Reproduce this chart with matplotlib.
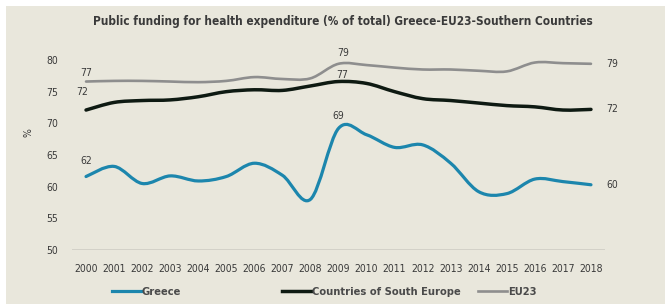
import numpy as np
import matplotlib.pyplot as plt
from matplotlib.path import Path
from matplotlib.patches import PathPatch, Rectangle
from matplotlib.lines import Line2D

# data
years = list(range(2000, 2019))
greece = [61.6, 63.2, 60.5, 61.7, 60.9, 61.6, 63.7, 61.8, 58.0, 69.2,
          68.2, 66.2, 66.6, 63.7, 59.2, 58.9, 61.2, 60.8, 60.3]
south = [72.1, 73.3, 73.6, 73.7, 74.2, 75.0, 75.3, 75.2, 75.9, 76.6,
         76.3, 75.0, 73.9, 73.6, 73.2, 72.8, 72.6, 72.1, 72.2]
eu23 = [76.6, 76.7, 76.7, 76.6, 76.5, 76.7, 77.3, 77.0, 77.1, 79.4,
        79.2, 78.8, 78.5, 78.5, 78.3, 78.2, 79.6, 79.5, 79.4]
series_names = ["Greece", "Countries of South Europe", "EU23"]
colors = ["#1c86ad", "#0e1a12", "#8e8e8e"]
widths = [2.3, 2.5, 1.9]

bg = "#e9e7dc"
txt = "#3a3a3a"
plt.rcParams['font.family'] = ["DejaVu Sans"]
plt.rcParams['font.stretch'] = "condensed"


def smooth_path(xs, ys):
    # excel-like smoothed line: cubic bezier segments with catmull-rom tangents
    xs = np.asarray(xs, float)
    ys = np.asarray(ys, float)
    verts = [(xs[0], ys[0])]
    codes = [Path.MOVETO]
    n = len(xs)
    for i in range(n - 1):
        p0 = np.array([xs[max(i - 1, 0)], ys[max(i - 1, 0)]])
        p1 = np.array([xs[i], ys[i]])
        p2 = np.array([xs[i + 1], ys[i + 1]])
        p3 = np.array([xs[min(i + 2, n - 1)], ys[min(i + 2, n - 1)]])
        c1 = p1 + (p2 - p0) / 6
        c2 = p2 - (p3 - p1) / 6
        verts += [tuple(c1), tuple(c2), tuple(p2)]
        codes += [Path.CURVE4] * 3
    return Path(verts, codes)


fig = plt.figure(figsize=(6.65, 3.04), dpi=100, facecolor="white")
fig.patches.append(Rectangle((6 / 665, 0), 1, 1 - 6 / 304, transform=fig.transFigure,
                             facecolor=bg, edgecolor="none", zorder=-1))
ax = fig.add_axes([72 / 665, 1 - 250 / 304, 533 / 665, 190 / 304])
ax.set_facecolor(bg)
ax.patch.set_alpha(0)

for vals, c, w in zip([eu23, south, greece], colors[::-1], widths[::-1]):
    ax.add_patch(PathPatch(smooth_path(years, vals), facecolor="none", edgecolor=c,
                           linewidth=w, capstyle="round", zorder=3))

ax.set_xlim(1999.5, 2018.5)
ax.set_ylim(50, 80)
ax.set_yticks(range(50, 81, 5))
ax.set_xticks(years)
ax.tick_params(axis="both", length=0, labelsize=7.5, colors=txt)
ax.tick_params(axis="y", pad=10)
ax.tick_params(axis="x", pad=10)
for s in ax.spines.values():
    s.set_visible(False)
ax.axhline(50, color="#cfcdc4", linewidth=1.2, zorder=1)
ax.set_ylabel("%", fontsize=7.5, color=txt)
ax.yaxis.set_label_coords(-0.073, 0.616)

# data labels
lab = dict(fontsize=7.5, color=txt, ha="center")
i9 = years.index(2009)
ax.text(2000, eu23[0] + 0.5, f"{eu23[0]:.0f}", va="bottom", **lab)
ax.text(1999.85, south[0] + 2.0, f"{south[0]:.0f}", va="bottom", **lab)
ax.text(2000, greece[0] + 1.6, f"{greece[0]:.0f}", va="bottom", **lab)
ax.text(2009.15, eu23[i9] + 0.9, f"{eu23[i9]:.0f}", va="bottom", **lab)
ax.text(2009.15, south[i9] + 0.3, f"{south[i9]:.0f}", va="bottom", **lab)
ax.text(2009.0, greece[i9] + 1.1, f"{greece[i9]:.0f}", va="bottom", **lab)
for vals in [eu23, south, greece]:
    ax.text(2018.55, vals[-1], f"{vals[-1]:.0f}", va="center", ha="left",
            fontsize=7.5, color=txt)

fig.text(0.515, 1 - 21 / 304, "Public funding for health expenditure (% of total) Greece-EU23-Southern Countries",
         ha="center", va="center", fontsize=8.5, fontweight="bold", color=txt)

# legend entries placed like the excel legend (fixed slots)
leg_x = [112, 282, 478]
for name, c, w, lx in zip(series_names, colors, widths, leg_x):
    leg = fig.legend([Line2D([], [], color=c, linewidth=w)], [name], loc="center left",
                     bbox_to_anchor=(lx / 665, 1 - 292 / 304), frameon=False, fontsize=8,
                     handlelength=2.6, handletextpad=0.1, borderpad=0, borderaxespad=0)
    for t in leg.get_texts():
        t.set_color("#4a4a4a")
        t.set_fontweight("bold")

fig.savefig("out.png", dpi=100, facecolor="white")
